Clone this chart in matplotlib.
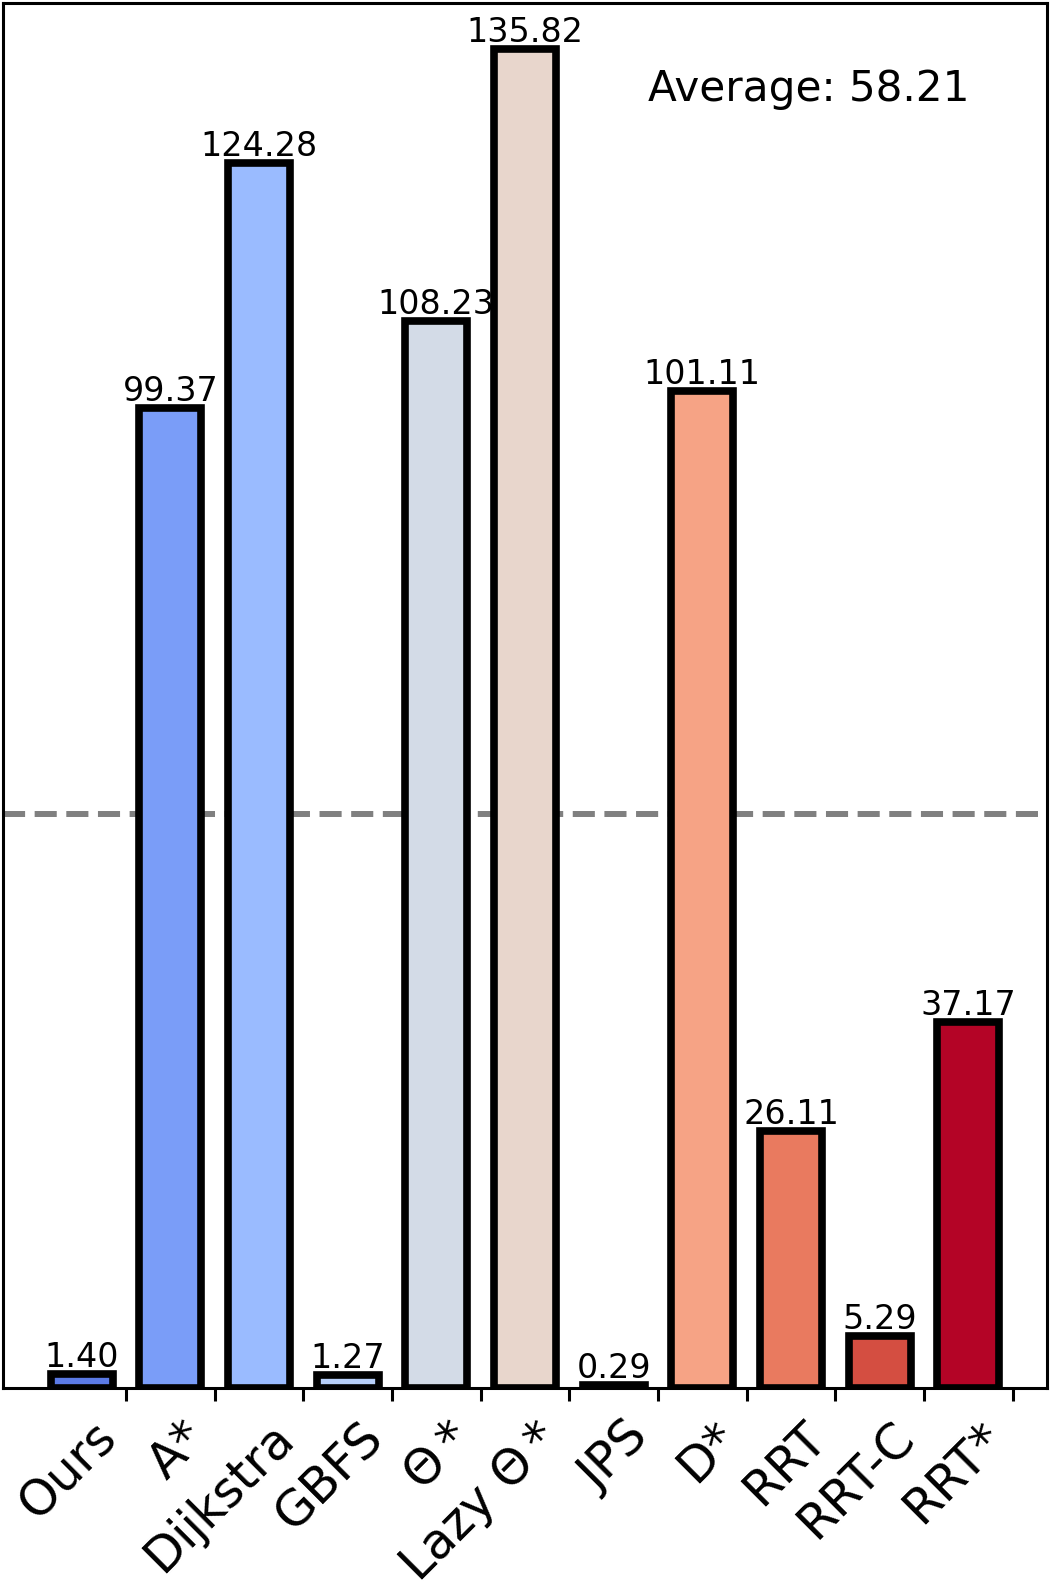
import numpy as np
import matplotlib
matplotlib.use("Agg")
import matplotlib.pyplot as plt

categories = ["Ours", "A*", "Dijkstra", "GBFS", r"$\Theta*$", r"Lazy $\Theta*$", "JPS", "D*", "RRT", "RRT-C", "RRT*"]
values = [1.40, 99.37, 124.28, 1.27, 108.23, 135.82, 0.29, 101.11, 26.11, 5.29, 37.17]
colors = ["#5b7ae5", "#7a9df8", "#9abbff", "#b7cff9", "#d3dbe7", "#e8d6cc",
          "#f2cbb7", "#f6a385", "#e97a5f", "#d44e41", "#b40426"]

avg = float(np.mean(values))

fig = plt.figure(figsize=(10.51, 15.87), dpi=100)
ax = fig.add_axes([0.003, 0.1254, 0.993, 0.8727])

x = np.arange(len(categories))
bars = ax.bar(x, values, width=0.7, color=colors, edgecolor="black", linewidth=5.5, zorder=2)

for xi, v in zip(x, values):
    ax.text(xi, v, f"{v:.2f}", ha="center", va="bottom", fontsize=24, zorder=3)

ax.axhline(avg, color="gray", linestyle="--", linewidth=4.3, zorder=1)
ax.text(0.772, 0.929, f"Average: {avg:.2f}", transform=ax.transAxes,
        ha="center", va="baseline", fontsize=30.3)

ax.set_ylim(0, 140.5)
ax.set_xlim(-0.885, 10.885)
ax.set_yticks([])
ax.set_xticks(x + 0.5)
ax.set_xticklabels(categories, rotation=45, ha="right", fontsize=35.5)
ax.tick_params(axis="x", direction="out", length=9, width=2.2, pad=9)
for s in ax.spines.values():
    s.set_linewidth(2.2)

fig.savefig("out.png", dpi=100)
